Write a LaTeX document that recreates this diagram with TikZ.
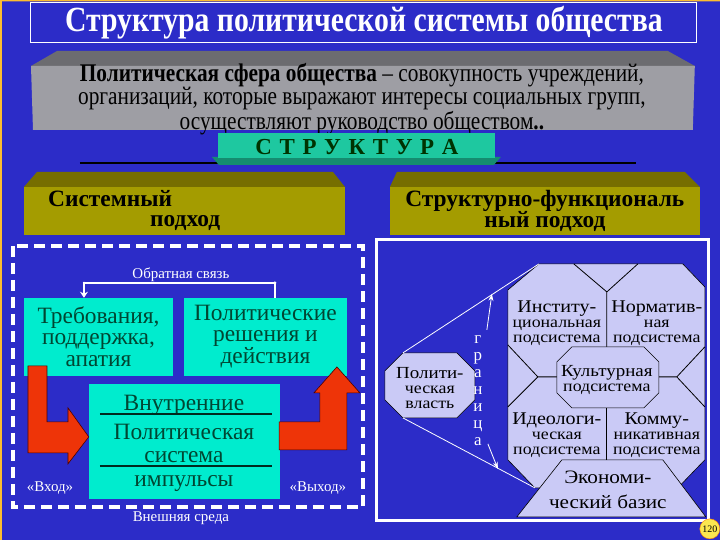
\documentclass[tikz,border=0pt]{standalone}
\usepackage{fontspec}
\setmainfont{Liberation Serif}
\newfontfamily\narrowfont[FakeStretch=0.84]{Liberation Serif}
\newfontfamily\wideserif[FakeStretch=1.12]{Liberation Serif}
\usetikzlibrary{positioning,arrows.meta}

\definecolor{bgblue}{RGB}{44,44,200}
\definecolor{greytop}{RGB}{108,108,112}
\definecolor{greyfront}{RGB}{158,158,164}
\definecolor{tealbox}{RGB}{30,200,160}
\definecolor{olivetop}{RGB}{118,110,0}
\definecolor{olivefront}{RGB}{164,156,0}
\definecolor{aqua}{RGB}{0,236,206}
\definecolor{aquatext}{RGB}{0,70,50}
\definecolor{arrowred}{RGB}{238,52,8}
\definecolor{lavender}{RGB}{202,202,246}
\definecolor{pagegold}{RGB}{250,230,80}

\begin{document}
\begin{tikzpicture}[x=1bp,y=-1bp,
    every node/.style={align=center,inner sep=0pt},
    plainline/.style={line width=0.8bp},
    aquabox/.style={fill=aqua,draw=aqua},
    aquafont/.style={text=aquatext,font=\fontsize{23.5}{21.5}\selectfont},
    olivefont/.style={font=\bfseries\fontsize{23.5}{22}\selectfont},
    whitefont/.style={text=white,font=\fontsize{15}{15}\selectfont},
    subfont/.style={font=\wideserif\fontsize{16}{15}\selectfont},
    redarrow/.style={fill=arrowred,draw=black!70!red,line width=0.6bp},
    octo/.style={fill=lavender,draw=black,line width=0.6bp}]

% background and title
\fill[bgblue] (0,0) rectangle (720,540);
\fill[pagegold!60!orange] (0,0) rectangle (2,540) (0,0) rectangle (720,1.5);
\draw[white,line width=1bp] (31,3) rectangle (697,43);
\node[text=white,font=\narrowfont\bfseries\fontsize{35.5}{36}\selectfont] (title) at (364,23)
  {Структура политической системы общества};

% grey plate
\fill[greytop] (57,51) -- (668,51) -- (695,66) -- (31,66) -- cycle;
\fill[greyfront] (31,66) -- (695,66) -- (693,130) -- (33,130) -- cycle;
\node[font=\narrowfont\fontsize{25.5}{20.5}\selectfont] (sphere) at (362,99)
  {\textbf{Политическая сфера общества} – совокупность учреждений,\\
   организаций, которые выражают интересы социальных групп,\\
   осуществляют руководство обществом\textbf{..}};

% structure label
\draw[black,line width=1.2bp] (80,163) -- (636,163);
\fill[tealbox!70!black] (212,157) -- (501,157) -- (494,165) -- (219,165) -- cycle;
\fill[tealbox] (218,133) rectangle (495,158);
\node[text=black!80!green,font=\bfseries\fontsize{23}{22}\selectfont] (structure) at (357,147)
  {С\,\,Т\,\,Р\,\,У\,\,К\,\,Т\,\,У\,\,Р\,\,А};

% two approaches
\fill[olivetop] (37,172) -- (333,172) -- (345,187) -- (24,187) -- cycle;
\fill[olivefront] (24,187) rectangle (345,235);
\fill[olivetop] (397,172) -- (685,172) -- (700,187) -- (390,187) -- cycle;
\fill[olivefront] (390,187) rectangle (700,235);
\node[anchor=west,olivefont] (sys1) at (48,199) {Системный};
\node[anchor=west,olivefont] (sys2) at (150,223.5) {подход};
\node[olivefont] (func) at (545,211) {Структурно-функциональ\\ный подход};

% system approach
\draw[white,line width=3.5bp,dash pattern=on 11bp off 6bp] (13,246) rectangle (363,507);
\node[whitefont] (feedback) at (181,275) {Обратная связь};
\node[aquabox,minimum width=148bp,minimum height=77bp,aquafont] (demands) at (98.5,336.5)
  {Требования,\\поддержка,\\апатия};
\node[aquabox,minimum width=162bp,minimum height=77bp,aquafont] (decisions) at (265.5,336.5)
  {Политические\\решения и\\действия};
\node[aquabox,minimum width=190bp,minimum height=114bp] (core) at (184,441) {};
\node[aquafont] (inner) at (184,405) {Внутренние};
\node[aquafont] (polsys) at (184,432) {Политическая};
\node[aquafont] (system) at (184,457) {система};
\node[aquafont] (impulse) at (184,484) {импульсы};
\draw[aquatext!60!black,line width=2bp] (100,414) -- (272,414);
\draw[aquatext!60!black,line width=2bp] (100,466) -- (272,466);
\coordinate (fbleft) at (demands.north -| 84,0);
\coordinate (fbright) at (decisions.north -| 275,0);
\draw[white,line width=1.8bp,-{Stealth[length=6bp,width=8bp]}]
  (fbright) -- (275,283) -- (84,283) -- (fbleft);
\fill[white] (275,283) circle (1.6bp) (84,283) circle (1.2bp);
\draw[redarrow] (28,366) -- (47,366) -- (47,422) -- (68,422) -- (68,408) -- (core.west |- 0,437)
  -- (68,464) -- (68,453) -- (28,453) -- cycle;
\draw[redarrow] (core.east |- 0,422) -- (320,422) -- (320,393) -- (314,393) -- (337,367)
  -- (360,393) -- (347,393) -- (347,450) -- (core.east |- 0,450) -- cycle;
\node[whitefont] (input) at (50,488) {«Вход»};
\node[whitefont] (output) at (318,488) {«Выход»};
\node[whitefont] (environment) at (181,518) {Внешняя среда};

% structural-functional approach
\draw[white,line width=3bp] (377,240) rectangle (709,521);
\draw[octo] (508,290) -- (539,264) -- (683,264) -- (705,287) -- (705,460) -- (678,488)
  -- (535,488) -- (508,460) -- cycle;
\draw[octo] (562,460) -- (663,460) -- (706,517) -- (517,517) -- cycle;
\draw[plainline] (574,264) -- (607,292) -- (638,264) (607,292) -- (607,347);
\draw[plainline] (508,345) -- (538,377) -- (508,407) (538,377) -- (557,377);
\draw[plainline] (705,347) -- (677,377) -- (705,407) (677,377) -- (659,377);
\draw[plainline] (607,408) -- (607,460);
\draw[octo] (572,347) -- (644,347) -- (659,362) -- (659,393) -- (644,408) -- (572,408)
  -- (557,393) -- (557,362) -- cycle;
\draw[octo] (403,353) -- (457,353) -- (475,371) -- (475,400) -- (457,418) -- (403,418)
  -- (385,400) -- (385,371) -- cycle;
\node[subfont] (power) at (430,388) {\fontsize{17}{15}\selectfont Полити-\\ческая\\власть};
\node[subfont] (inst) at (557,323) {\fontsize{18}{15}\selectfont Институ-\\циональная\\подсистема};
\node[subfont] (norm) at (657,323) {\fontsize{18}{15}\selectfont Норматив-\\ная\\подсистема};
\node[subfont] (culture) at (607,380) {\fontsize{17}{15}\selectfont Культурная\\подсистема};
\node[subfont] (ideo) at (557,435) {\fontsize{18}{15}\selectfont Идеологи-\\ческая\\подсистема};
\node[subfont] (comm) at (657,435) {\fontsize{18}{15}\selectfont Комму-\\никативная\\подсистема};
\node[font=\wideserif\fontsize{19}{25}\selectfont] (economy) at (608,490) {Экономи-\\ческий базис};
\coordinate (topjoin) at (539,264);
\coordinate (lowjoin) at (535,488);
\draw[white,plainline] (403,353) -- (topjoin);
\draw[white,plainline] (403,418) -- (lowjoin);
\node[text=white,font=\fontsize{17}{17}\selectfont] (border) at (478,391)
  {г\\р\\а\\н\\и\\ц\\а};
\draw[white,plainline,-{Stealth[length=7bp,width=5bp]}] (487,330) -- (492,294);
\draw[white,plainline,-{Stealth[length=7bp,width=5bp]}] (488,444) -- (498,469);

% page number
\node[fill=pagegold,draw=orange,minimum size=20bp,shape=circle,
  font=\fontsize{10}{10}\selectfont] (page) at (710,529) {120};
\end{tikzpicture}
\end{document}
